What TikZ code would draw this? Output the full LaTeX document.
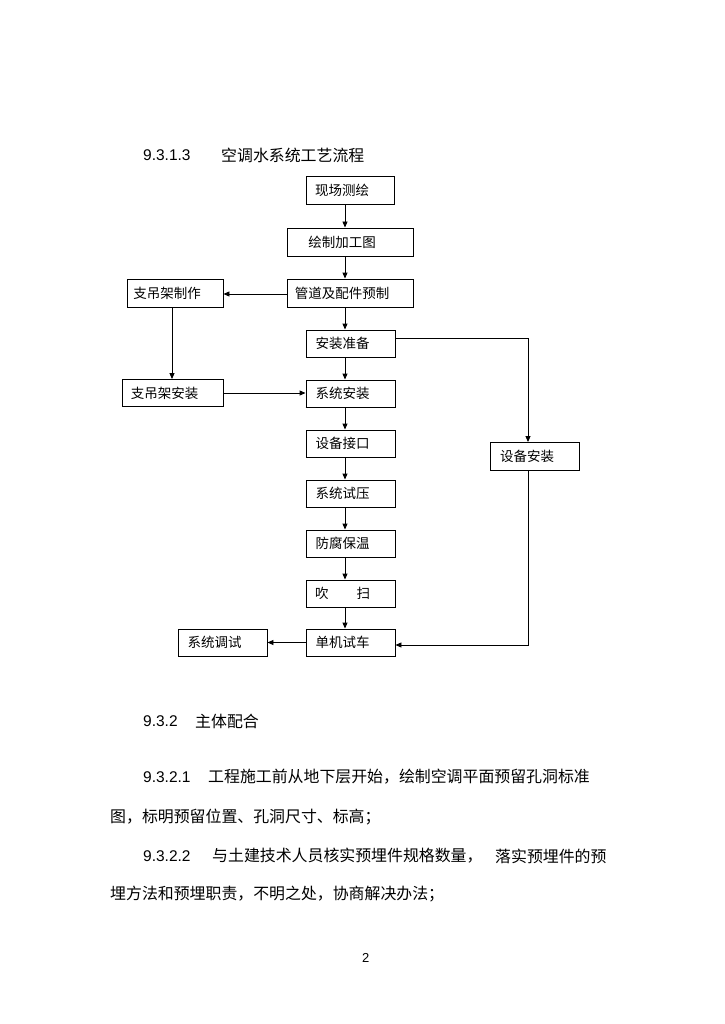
\documentclass[tikz,border=0pt]{standalone}
\usepackage{fontspec}
\setmainfont{Liberation Sans}
\newfontfamily\cjk{Noto Sans CJK SC}
\usetikzlibrary{arrows.meta}
\begin{document}
\begin{tikzpicture}[x=1pt,y=-1pt,
  box/.style={draw, line width=0.9pt, inner sep=0pt, minimum height=27pt,
    font=\cjk\fontsize{13.5}{16}\selectfont, execute at end node={\hspace*{16pt}}},
  arr/.style={-{Triangle[length=6pt,width=5pt]}, line width=0.9pt},
  num/.style={anchor=west, inner sep=0pt, font=\fontsize{15.5}{18}\selectfont},
  zh/.style={anchor=west, inner sep=0pt, font=\cjk\fontsize{15.9}{18}\selectfont},
]
\fill[white] (0,0) rectangle (724,1024);
\useasboundingbox (0,0) rectangle (724,1024);

% heading
\node[num] (h1n) at (143,155) {9.3.1.3};
\node[zh] (h1t) at (221,155) {空调水系统工艺流程};

% boxes
\node[box, minimum width=88pt, minimum height=28pt] (xc) at (350,190) {现场测绘};
\node[box, minimum width=126pt, minimum height=28pt] (hz) at (350,242) {绘制加工图};
\node[box, minimum width=126pt, minimum height=28pt] (gd) at (350,293) {管道及配件预制};
\node[box, minimum width=96pt, minimum height=28pt] (zz) at (175,293) {支吊架制作};
\node[box, minimum width=89pt] (az) at (350.5,343.5) {安装准备};
\node[box, minimum width=101pt] (za) at (172.5,393) {支吊架安装};
\node[box, minimum width=89pt] (xa) at (350.5,393.5) {系统安装};
\node[box, minimum width=89pt] (sj) at (350.5,443.5) {设备接口};
\node[box, minimum width=89pt, minimum height=28pt] (sa) at (535,456.5) {设备安装};
\node[box, minimum width=89pt] (sy) at (350.5,493.5) {系统试压};
\node[box, minimum width=89pt] (ff) at (350.5,543.5) {防腐保温};
\node[box, minimum width=89pt] (cs) at (350.5,593.5) {吹\hspace{28pt}扫};
\node[box, minimum width=89pt] (dj) at (350.5,642.5) {单机试车};
\node[box, minimum width=89pt] (td) at (222.5,642.5) {系统调试};

% heavier edges
\draw[line width=1.6pt] (xa.south west) -- (xa.south east) -- (xa.north east);
\draw[line width=1.5pt] (sy.south west) -- (sy.south east);

% main column
\draw[arr] ([xshift=-5pt]xc.south) -- ([xshift=-5pt]hz.north);
\draw[arr] ([xshift=-5pt]hz.south) -- ([xshift=-5pt]gd.north);
\draw[arr] ([xshift=-5pt]gd.south) -- ([xshift=-5.5pt]az.north);
\draw[arr] ([xshift=-5.5pt]az.south) -- ([xshift=-5.5pt]xa.north);
\draw[arr] ([xshift=-5.5pt]xa.south) -- ([xshift=-5.5pt]sj.north);
\draw[arr] ([xshift=-5.5pt]sj.south) -- ([xshift=-5.5pt]sy.north);
\draw[arr] ([xshift=-5.5pt]sy.south) -- ([xshift=-5.5pt]ff.north);
\draw[arr] ([xshift=-5.5pt]ff.south) -- ([xshift=-5.5pt]cs.north);
\draw[arr] ([xshift=-5.5pt]cs.south) -- ([xshift=-5.5pt]dj.north);

% side branches
\draw[arr] ([yshift=-1pt]gd.west) -- ([yshift=-1pt]zz.east);
\draw[arr] ([xshift=-3pt]zz.south) -- ([xshift=-3pt]zz.south |- za.north);
\draw[arr] (za.east) -- (za.east -| xa.west);
\draw[arr] ([yshift=5.5pt]az.east) -| ([xshift=-7pt]sa.north);
\draw[arr] ([xshift=-7pt]sa.south) |- ([yshift=-2.5pt]dj.east);
\draw[arr] (dj.west) -- (td.east);

% body text
\node[num] (s2n) at (143,721) {9.3.2};
\node[zh] (s2t) at (195,721) {主体配合};
\node[num] (p1n) at (143,777) {9.3.2.1};
\node[zh] (p1t) at (208,777) {工程施工前从地下层开始，绘制空调平面预留孔洞标准};
\node[zh] (p1b) at (110,817) {图，标明预留位置、孔洞尺寸、标高；};
\node[num] (p2n) at (143,856) {9.3.2.2};
\node[zh] (p2t) at (212,856) {与土建技术人员核实预埋件规格数量，};
\node[zh] (p2u) at (495,856) {落实预埋件的预};
\node[zh] (p2b) at (110,894) {埋方法和预埋职责，不明之处，协商解决办法；};
\node[num, font=\fontsize{13}{15}\selectfont] (pg) at (362,958) {2};
\end{tikzpicture}
\end{document}
